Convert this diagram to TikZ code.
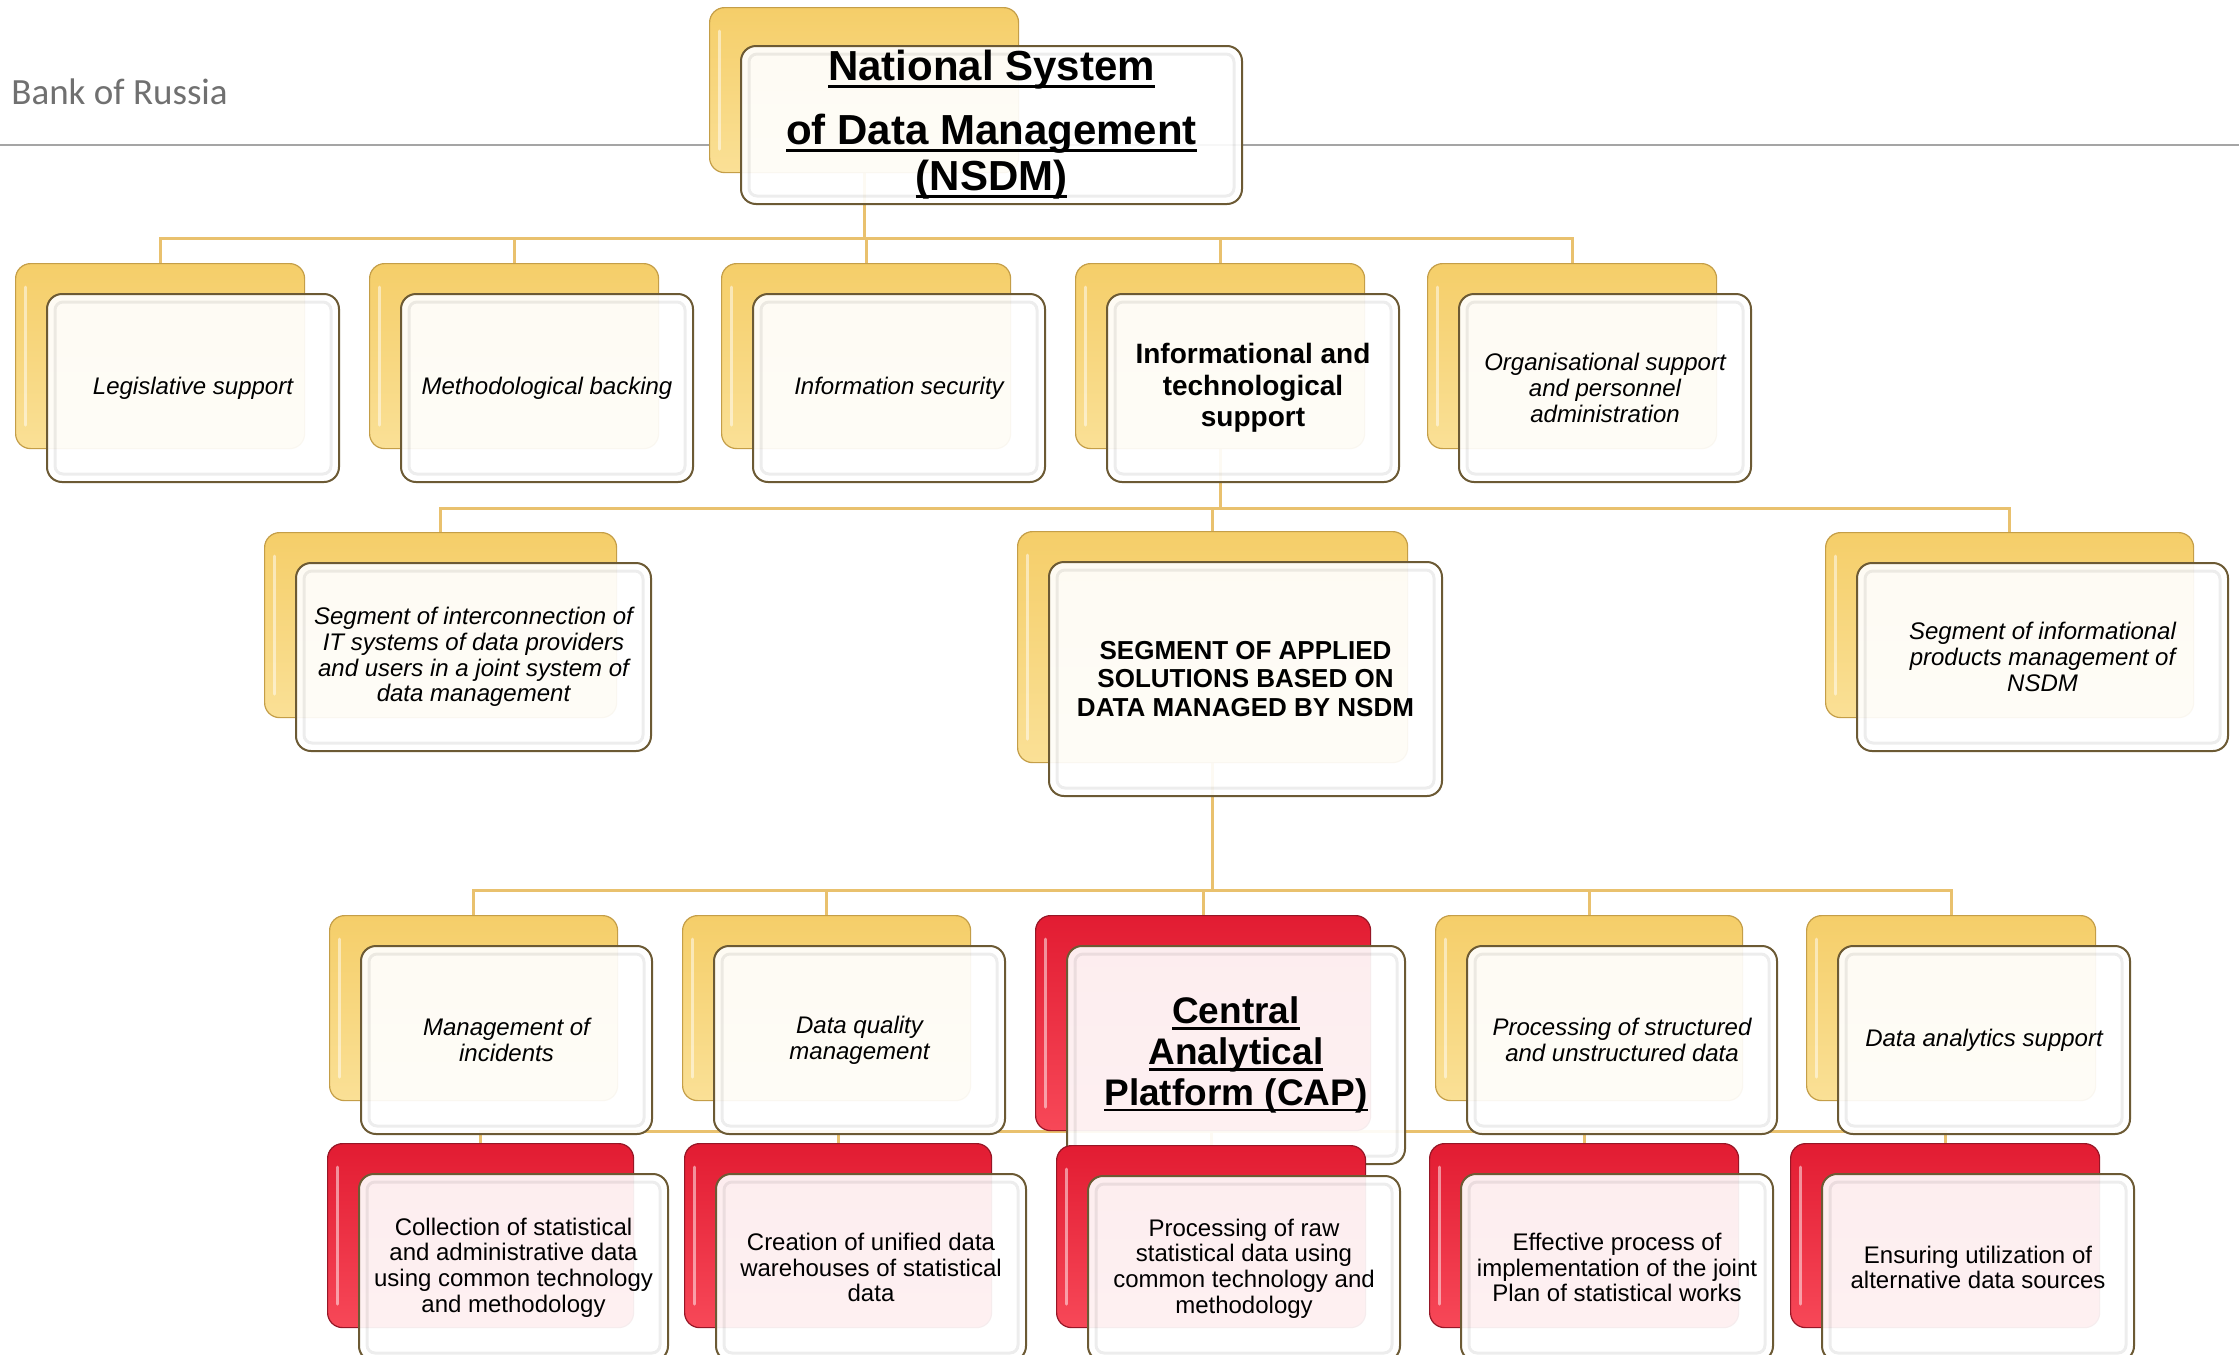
\documentclass[tikz,border=0pt]{standalone}
\usepackage{fontspec}
\setmainfont{Liberation Sans}
\newfontfamily\carlito{Carlito}
\usetikzlibrary{calc}
\pgfdeclarelayer{bg}
\pgfsetlayers{bg,main}

\definecolor{goldtop}{RGB}{245,206,105}
\definecolor{goldbot}{RGB}{250,224,150}
\definecolor{goldedge}{RGB}{196,158,72}
\definecolor{redtop}{RGB}{226,28,50}
\definecolor{redbot}{RGB}{247,72,88}
\definecolor{rededge}{RGB}{150,22,38}
\definecolor{frontedge}{RGB}{108,90,52}
\definecolor{conn}{RGB}{233,193,110}
\definecolor{rulegray}{RGB}{165,165,165}
\definecolor{bankgray}{RGB}{112,112,112}

% underline at a fixed depth below the baseline
\newbox\ulinebox
\newcommand\ulin[1]{\setbox\ulinebox\hbox{#1}\rlap{\rule[-0.16em]{\wd\ulinebox}{0.07em}}\box\ulinebox}

\tikzset{
  backgold/.style={draw=goldedge, line width=0.6pt, top color=goldtop, bottom color=goldbot, rounded corners=7.5pt},
  backred/.style={draw=rededge, line width=0.6pt, top color=redtop, bottom color=redbot, rounded corners=7.5pt},
  frontbox/.style={draw=frontedge, line width=1pt, fill=white, fill opacity=0.92, text opacity=1,
    rounded corners=7.5pt, align=center, inner sep=0pt, text=black},
  conline/.style={draw=conn, line width=1.5pt},
  itltext/.style={font=\fontsize{12}{12.9}\selectfont\itshape},
  romtext/.style={font=\fontsize{12}{12.9}\selectfont},
  boldtext/.style={font=\fontsize{14}{15.7}\selectfont\bfseries},
  capstext/.style={font=\fontsize{13}{14.3}\selectfont\bfseries},
  captext/.style={font=\fontsize{18.5}{20.3}\selectfont\bfseries},
  roottext/.style={font=\fontsize{21}{23}\selectfont\bfseries},
}

% #1 name, #2 x, #3 y (top left of the back card), #4 width, #5 height,
% #6 colour family (gold/red), #7 text style, #8 text
\newcommand\pair[8]{%
  \node[back#6, anchor=north west, minimum width=#4*0.5pt, minimum height=#5*0.5pt] (#1-b) at (#2,#3) {};
  \draw[white, opacity=0.5, line width=1.5pt, line cap=round]
    ($(#1-b.north west)+(10,24)$) -- ($(#1-b.south west)+(10,-24)$);
  \node[frontbox, #7, anchor=north west, minimum width=(#4+3)*0.5pt, minimum height=(#5+3)*0.5pt]
    (#1) at (#2+31,#3+30) {#8};
  \draw[black, opacity=0.07, line width=1.5pt, rounded corners=4pt]
    ($(#1.north west)+(9,9)$) rectangle ($(#1.south east)+(-9,-9)$);
}

\begin{document}
\begin{tikzpicture}[x=0.5pt, y=-0.5pt]
\useasboundingbox (0,0) rectangle (2239,1355);
\clip (0,0) rectangle (2239,1355);

% header
\node[anchor=base west, inner sep=0pt, text=bankgray, font=\carlito\fontsize{18.5}{20}\selectfont]
  (bank) at (11,104) {Bank of Russia};
\coordinate (ruleL) at (0,145);
\coordinate (ruleR) at (2239,145);

% root
\node[backgold, anchor=north west, minimum width=309*0.5pt, minimum height=165*0.5pt] (nsdm-b) at (709,7) {};
\draw[white, opacity=0.5, line width=1.5pt, line cap=round]
  ($(nsdm-b.north west)+(10,24)$) -- ($(nsdm-b.south west)+(10,-24)$);
\node[frontbox, roottext, anchor=north west, minimum width=501*0.5pt, minimum height=158*0.5pt] (nsdm) at (740,45)
  {\ulin{National System}\\[9pt]\ulin{of Data Management}\\\ulin{(NSDM)}};
\draw[black, opacity=0.07, line width=1.5pt, rounded corners=4pt]
  ($(nsdm.north west)+(9,9)$) rectangle ($(nsdm.south east)+(-9,-9)$);

% first level
\pair{l1a}{15}{263}{289}{185}{gold}{itltext}{Legislative support}
\pair{l1b}{369}{263}{289}{185}{gold}{itltext}{Methodological backing}
\pair{l1c}{721}{263}{289}{185}{gold}{itltext}{Information security}
\pair{l1d}{1075}{263}{289}{185}{gold}{boldtext}{Informational and\\technological\\support}
\pair{l1e}{1427}{263}{289}{185}{gold}{itltext}{Organisational support\\and personnel\\administration}

% second level
\pair{l2a}{264}{532}{352}{185}{gold}{itltext}{Segment of interconnection of\\IT systems of data providers\\and users in a joint system of\\data management}
\pair{l2b}{1017}{531}{390}{231}{gold}{capstext}{SEGMENT OF APPLIED\\SOLUTIONS BASED ON\\DATA MANAGED BY NSDM}
\pair{l2c}{1825}{532}{368}{185}{gold}{itltext}{Segment of informational\\products management of\\NSDM}

% third level
\pair{l3a}{329}{915}{288}{185}{gold}{itltext}{Management of\\incidents}
\pair{l3b}{682}{915}{288}{185}{gold}{itltext}{Data quality\\management}
\pair{l3c}{1035}{915}{335}{215}{red}{captext}{\ulin{Central}\\\ulin{Analytical}\\\ulin{Platform (CAP)}}
\pair{l3d}{1435}{915}{307}{185}{gold}{itltext}{Processing of structured\\and unstructured data}
\pair{l3e}{1806}{915}{289}{185}{gold}{itltext}{Data analytics support}

% fourth level
\pair{l4a}{327}{1143}{306}{184}{red}{romtext}{Collection of statistical\\and administrative data\\using common technology\\and methodology}
\pair{l4b}{684}{1143}{307}{184}{red}{romtext}{Creation of unified data\\warehouses of statistical\\data}
\pair{l4c}{1056}{1145}{309}{182}{red}{romtext}{Processing of raw\\statistical data using\\common technology and\\methodology}
\pair{l4d}{1429}{1143}{309}{184}{red}{romtext}{Effective process of\\implementation of the joint\\Plan of statistical works}
\pair{l4e}{1790}{1143}{309}{184}{red}{romtext}{Ensuring utilization of\\alternative data sources}

% page, rule and connectors behind the cards
\begin{pgfonlayer}{bg}
  \fill[white] (0,0) rectangle (2239,1355);
  \draw[rulegray, line width=1pt] (ruleL) -- (ruleR);
  \foreach \c in {l1a,l1b,l1c,l1d,l1e}
    \draw[conline] (nsdm-b.south) -- ++(0,65) -| (\c-b.north);
  \foreach \c in {l2a,l2b,l2c}
    \draw[conline] (l1d-b.south) -- ++(0,59) -| (\c-b.north);
  \foreach \c in {l3a,l3b,l3c,l3d,l3e}
    \draw[conline] (l2b-b.south) -- ++(0,127) -| (\c-b.north);
  \foreach \c in {l4a,l4b,l4c,l4d,l4e}
    \draw[conline] (l3c-b.south) -| (\c-b.north);
\end{pgfonlayer}
\end{tikzpicture}
\end{document}
